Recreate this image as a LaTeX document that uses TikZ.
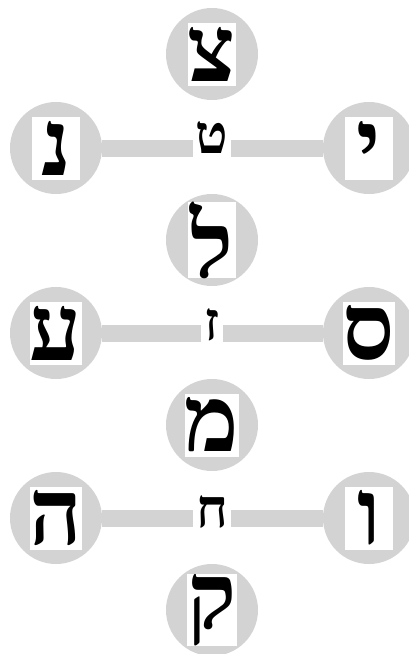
\documentclass[tikz,border=0pt]{standalone}
\usepackage{fontspec}
\newfontfamily\hebfont[Script=Hebrew]{Liberation Serif}
\TeXXeTstate=1
\definecolor{cgray}{RGB}{211,211,211}
\begin{document}
\begin{tikzpicture}[x=1pt,y=-1pt,
  disc/.style={circle,fill=cgray,minimum size=92pt,inner sep=0pt},
  bigletter/.style={fill=white,minimum width=48pt,minimum height=63pt,inner sep=0pt,
    font=\hebfont\bfseries\fontsize{92}{92}\selectfont},
  midletter/.style={fill=white,inner xsep=3pt,inner ysep=2pt,text depth=10pt,anchor=base,
    font=\hebfont\bfseries\fontsize{54}{54}\selectfont},
  bar/.style={line width=17pt,draw=cgray}]
\useasboundingbox (0,0) rectangle (409,654);
% discs
\node[disc] (c1) at (212,54) {};
\node[disc] (l2) at (56,148) {};
\node[disc] (r2) at (369,148) {};
\node[disc] (c3) at (212,240) {};
\node[disc] (l4) at (56,333) {};
\node[disc] (r4) at (369,333) {};
\node[disc] (c5) at (212,425) {};
\node[disc] (l6) at (56,518) {};
\node[disc] (r6) at (369,518) {};
\node[disc] (c7) at (212,610) {};
% bars
\draw[bar] (l2) -- (r2);
\draw[bar] (l4) -- (r4);
\draw[bar] (l6) -- (r6);
% big letters
\node[bigletter] (tc1) at (c1) {צ};
\node[bigletter] (tl2) at (l2) {נ};
\node[bigletter] (tr2) at (r2) {י};
\node[bigletter] (tc3) at (c3) {ל};
\node[bigletter] (tl4) at (l4) {ע};
\node[bigletter] (tr4) at (r4) {ס};
\node[bigletter] (tc5) at (c5) {מ};
\node[bigletter] (tl6) at (l6) {ה};
\node[bigletter] (tr6) at (r6) {ו};
\node[bigletter] (tc7) at (c7) {ק};
% middle letters
\node[midletter] (m2) at (212,153) {ט};
\node[midletter] (m4) at (212,340) {ז};
\node[midletter] (m6) at (212,527) {ח};
\end{tikzpicture}
\end{document}
